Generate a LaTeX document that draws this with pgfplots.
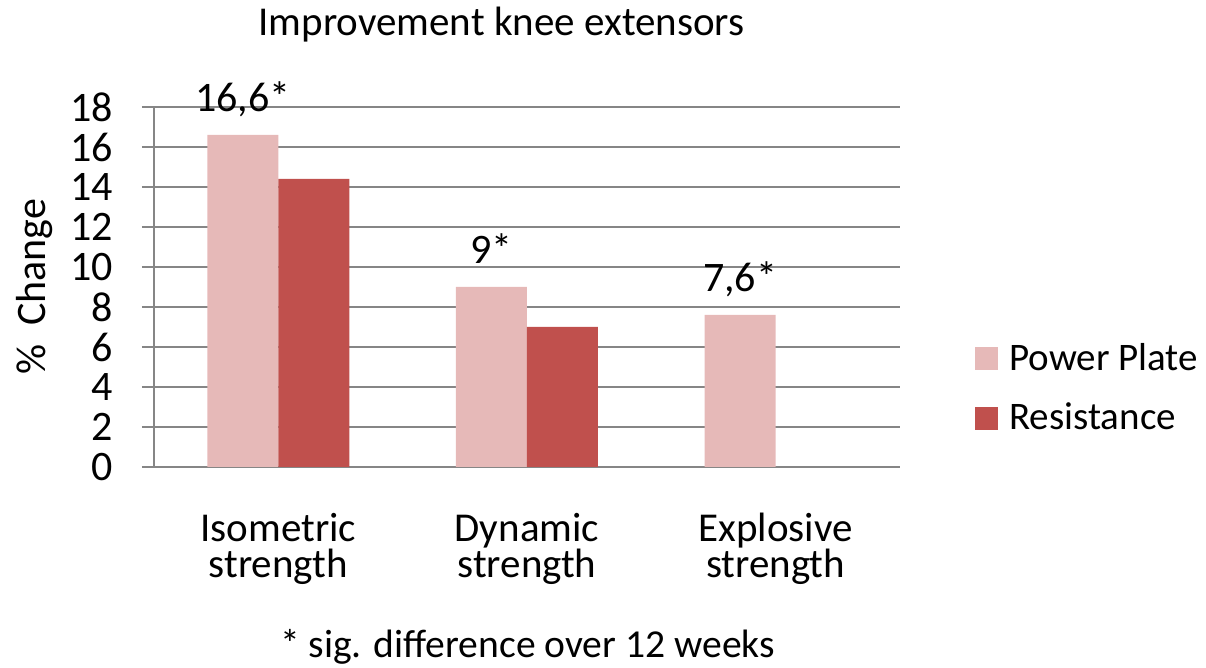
\documentclass[border=0pt]{standalone}
\usepackage{fontspec}
\setmainfont{Carlito}
\usepackage{pgfplots}
\pgfplotsset{compat=1.18}
\definecolor{ppink}{HTML}{E6B9B8}
\definecolor{pred}{HTML}{C0504D}
\definecolor{gridgray}{HTML}{868686}

\begin{document}
\begin{tikzpicture}
% 1 px of the reference = 0.5pt, origin at the axis' lower left corner
\path[use as bounding box] (-77pt,-100.5pt) rectangle (526pt,233.5pt);
\begin{axis}[
    at={(0pt,0pt)}, anchor=south west,
    width=373pt, height=180pt, scale only axis,
    xmin=-0.5, xmax=2.5, ymin=0, ymax=18,
    ybar=0pt, bar width=35.5pt,
    axis x line*=bottom, axis y line*=left,
    axis line style={gridgray, line width=1pt},
    ytick={0,2,...,18},
    ymajorgrids, grid style={gridgray, line width=1pt},
    tick align=outside, major tick length=6pt,
    ytick style={gridgray, line width=1pt},
    xtick={0,1,2}, xtick style={draw=none},
    xticklabels={{Isometric\\strength},{Dynamic\\strength},{Explosive\\strength}},
    xticklabel style={align=center, anchor=base, inner sep=0pt, yshift=-49.3pt,
        font=\fontsize{20.5}{18}\selectfont},
    yticklabel style={anchor=east, inner sep=0pt, xshift=-14.5pt,
        font=\fontsize{21}{25}\selectfont},
    /pgf/number format/assume math mode=true,
    ylabel={\%\ \ Change},
    ylabel style={at={(axis description cs:-0.1595,0.5)}, anchor=center,
        font=\fontsize{21}{25}\selectfont},
    legend style={at={(axis description cs:1.1005,0.2194)}, anchor=west,
        draw=none, fill=none, inner sep=0pt, row sep=15pt, column sep=5.5pt,
        nodes={inner sep=0pt}, font=\fontsize{19.5}{23}\selectfont},
    legend cell align=left,
    legend image code/.code={\fill[#1] (0pt,-5.75pt) rectangle (11.5pt,5.75pt);},
]
\addplot[fill=ppink, draw=none, point meta=explicit symbolic,
    nodes near coords,
    nodes near coords style={anchor=base, inner sep=0pt, yshift=11.5pt,
        font=\fontsize{21}{25}\selectfont, text=black}]
    coordinates {(0,16.6) [16{,}6*] (1,9) [9*] (2,7.6) [7{,}6*]};
\addplot[fill=pred, draw=none]
    coordinates {(0,14.4) (1,7)};
\legend{Power Plate, Resistance}
\end{axis}
\node[anchor=base, font=\fontsize{20.5}{24}\selectfont] at (173.75pt,215.5pt)
    {Improvement knee extensors};
\node[anchor=base, font=\fontsize{19.8}{23}\selectfont] at (186.75pt,-95.5pt)
    {* sig. difference over 12 weeks};
\end{tikzpicture}
\end{document}
